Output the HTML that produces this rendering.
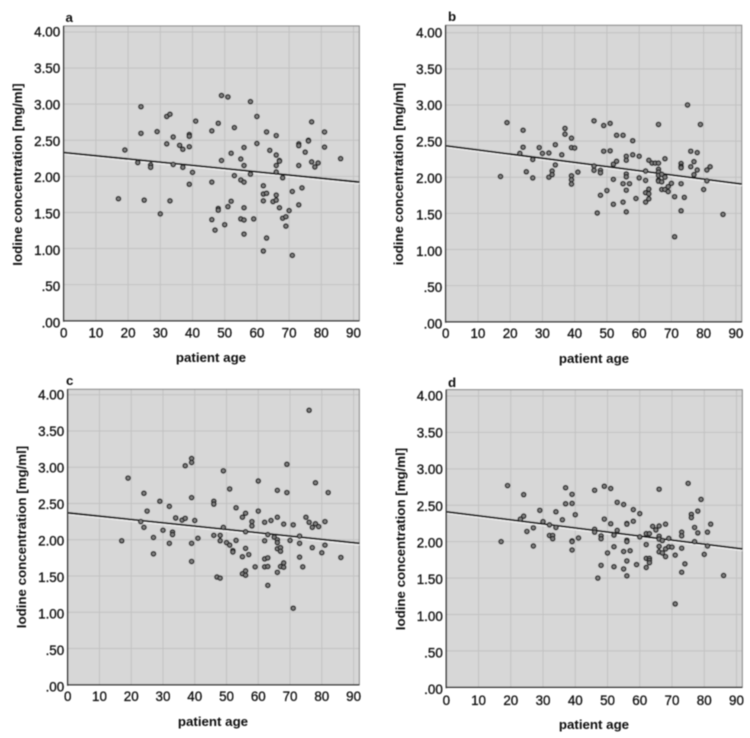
<!DOCTYPE html>
<html lang="en">
<head>
<meta charset="utf-8">
<title>Iodine concentration by patient age</title>
<style>
html,body{margin:0;padding:0;background:#fff;}
#figure{display:block;width:750px;height:738px;}
text{font-family:"Liberation Sans",sans-serif;fill:#111;}
</style>
</head>
<body>
<svg id="figure" xmlns="http://www.w3.org/2000/svg" width="750" height="738" viewBox="0 0 750 738">
<defs><filter id="soft" x="-2%" y="-2%" width="104%" height="104%"><feGaussianBlur stdDeviation="0.4"/></filter></defs>
<rect width="750" height="738" fill="#fff"/>
<g id="root" filter="url(#soft)"></g>
</svg>
<script>
var xTickValues = [0,10,20,30,40,50,60,70,80,90];
var xTickLabels = ["0","10","20","30","40","50","60","70","80","90"];
var yTickValues = [0,0.5,1,1.5,2,2.5,3,3.5,4];
var yTickLabels = [".00",".50","1.00","1.50","2.00","2.50","3.00","3.50","4.00"];
var trendAges = [0,91.8];

var agesA = [17,19,23,24,24,25,27,27,29,30,32,33,32,33,34,34,36,37,37,39,39,39,39,40,41,46,46,46,47,48,48,48,49,49,50,51,51,52,52,53,53,55,55,55,56,56,56,56,56,56,58,58,59,60,60,62,62,62,62,63,63,63,64,65,66,66,66,66,66,66,67,67,67,68,68,69,69,70,71,71,73,73,73,73,74,75,76,76,77,77,78,79,81,81,86];
var concA = [1.69,2.365,2.19,2.965,2.596,1.67,2.157,2.125,2.62,1.48,2.83,2.86,2.45,1.66,2.545,2.165,2.43,2.375,2.125,2.58,2.555,2.41,1.89,2.055,2.765,2.63,1.92,1.4,1.255,2.735,1.555,1.53,3.12,2.22,1.33,3.1,1.58,2.32,1.655,2.675,2.01,2.24,1.95,1.41,2.4,2.15,1.92,1.565,1.395,1.2,3.035,2.03,1.41,2.83,2.455,1.87,1.755,1.66,0.965,2.615,1.765,1.145,2.36,1.65,2.565,2.295,2.15,2.06,1.74,1.67,2.22,2.21,1.565,1.98,1.42,1.44,1.31,1.525,1.79,0.905,2.45,2.425,2.15,1.605,1.84,2.335,2.5,2.49,2.755,2.2,2.13,2.185,2.615,2.405,2.245];
var trendA = [2.33,1.92];

var agesB = [17,19,23,24,24,25,27,27,29,30,32,32,33,33,34,34,36,37,37,39,39,39,39,39,40,41,46,46,46,47,48,48,48,49,49,50,51,51,52,52,52,53,53,55,55,55,56,56,56,56,56,56,57,58,58,59,60,60,62,62,62,62,63,63,63,63,64,65,66,66,66,66,66,66,66,67,67,67,68,68,68,69,69,70,71,71,73,73,73,73,74,75,76,76,77,77,78,78,79,80,81,81,82,86,73];
var concB = [2.01,2.755,2.33,2.65,2.415,2.075,2.245,1.99,2.41,2.33,2.335,2.0,2.085,2.035,2.45,2.17,2.31,2.675,2.595,2.54,2.41,2.02,1.965,1.905,2.405,2.07,2.78,2.155,2.095,1.505,2.095,2.06,1.75,2.715,2.36,1.815,2.745,2.365,2.18,1.97,1.625,2.58,2.22,2.58,1.91,1.655,2.29,2.235,2.045,2.005,1.82,1.52,1.91,2.505,2.31,1.705,2.29,1.99,2.085,1.955,1.785,1.655,2.235,1.835,1.77,1.7,2.195,2.195,2.73,2.195,2.11,2.07,2.025,1.96,1.945,2.04,1.935,1.83,2.255,2.0,1.83,1.87,1.8,1.915,1.73,1.175,2.19,2.15,2.13,1.91,1.72,3.0,2.36,2.145,2.215,2.035,2.34,2.1,2.73,1.83,2.1,1.95,2.145,1.485,1.535];
var trendB = [2.435,1.905];

var agesC = [17,19,23,24,24,25,27,27,29,30,32,32,33,33,34,34,36,37,37,39,39,39,39,39,40,41,46,46,46,47,48,48,48,49,49,50,51,51,52,52,53,53,55,55,55,56,56,56,56,56,57,58,58,59,60,60,62,62,62,62,63,63,63,63,64,65,66,66,66,66,66,66,67,67,67,68,68,68,69,69,70,71,71,73,73,73,74,75,76,76,77,77,78,78,79,80,81,81,82,86];
var concC = [1.985,2.85,2.25,2.64,2.17,2.395,2.03,1.805,2.53,2.13,2.46,1.95,2.105,2.07,2.3,2.3,2.27,2.295,3.02,3.12,3.065,2.58,1.95,1.7,2.265,2.02,2.53,2.49,2.06,1.485,2.06,1.985,1.47,2.95,2.17,1.96,2.7,1.925,1.85,1.83,2.44,1.99,2.31,1.765,1.53,2.365,2.11,1.88,1.57,1.51,1.795,2.25,2.19,1.625,2.81,2.395,2.24,1.985,1.735,1.625,2.07,1.75,1.63,1.37,2.265,2.035,2.68,2.31,2.0,1.96,1.875,1.55,1.89,1.84,1.63,2.215,1.68,1.62,3.04,2.65,1.99,2.205,1.055,2.05,1.95,1.76,1.625,2.31,3.785,2.24,2.17,1.89,2.785,2.22,2.18,1.82,2.25,1.925,2.65,1.755];
var trendC = [2.37,1.95];

var agesD = [17,19,23,24,24,25,27,27,29,30,32,32,33,33,34,34,36,37,37,39,39,39,39,39,40,41,46,46,46,47,48,48,48,49,49,50,51,51,52,52,52,53,53,55,55,55,56,56,56,56,56,56,57,58,58,59,60,60,62,62,62,62,63,63,63,63,64,65,66,66,66,66,66,66,67,67,68,68,68,69,69,70,71,71,73,73,73,73,74,75,76,76,77,77,78,78,79,80,81,81,82,86];
var concD = [2.0,2.77,2.31,2.35,2.645,2.14,2.19,1.94,2.43,2.275,2.23,2.085,2.085,2.04,2.41,2.195,2.3,2.74,2.52,2.65,2.525,2.01,2.0,1.885,2.37,2.05,2.705,2.17,2.13,1.5,2.08,2.04,1.675,2.76,2.31,1.845,2.73,2.245,2.09,1.93,1.655,2.54,2.155,2.51,1.865,1.625,2.25,2.24,2.02,2.0,1.735,1.53,1.875,2.44,2.28,1.685,2.385,2.065,2.11,1.96,1.77,1.645,2.11,1.77,1.74,1.71,2.21,2.16,2.72,2.215,2.075,2.035,1.935,1.86,2.015,1.845,2.24,1.9,1.795,2.045,1.93,1.925,1.815,1.145,2.13,2.08,1.91,1.58,1.695,2.8,2.375,2.33,2.195,2.0,2.42,2.12,2.58,1.825,2.13,1.94,2.24,1.535];
var trendD = [2.41,1.90];

var panelA = {key:"a",ages:agesA,conc:concA,trend:trendA,yTitle:"Iodine concentration [mg/ml]",L:63.7,R:359.3,T:26,B:320.7,y4:32,letterX:65.5,letterY:22,yTitleX:22,yTitleY:174.5,xLabelY:337.5,xTitleX:211,xTitleY:362};
var panelB = {key:"b",ages:agesB,conc:concB,trend:trendB,yTitle:"iodine concentration [mg/ml]",L:445.7,R:741.7,T:25.3,B:321.7,y4:32.7,letterX:448,letterY:21,yTitleX:403,yTitleY:174,xLabelY:338,xTitleX:594,xTitleY:363};
var panelC = {key:"c",ages:agesC,conc:concC,trend:trendC,yTitle:"Iodine concentration [mg/ml]",L:67.7,R:359.3,T:389.3,B:684.7,y4:394.7,letterX:66,letterY:385,yTitleX:26,yTitleY:537,xLabelY:701,xTitleX:213,xTitleY:726};
var panelD = {key:"d",ages:agesD,conc:concD,trend:trendD,yTitle:"Iodine concentration [mg/ml]",L:446.3,R:742.3,T:389.7,B:687.3,y4:396,letterX:448,letterY:387,yTitleX:405,yTitleY:539,xLabelY:705,xTitleX:594,xTitleY:729};
var panels = [panelA,panelB,panelC,panelD];

var NS = "http://www.w3.org/2000/svg";
var XMAX = 91.8;
var root = document.getElementById("root");

function make(parent, tag, attrs, txt){
  var e = document.createElementNS(NS, tag);
  for (var k in attrs) e.setAttribute(k, attrs[k]);
  if (txt !== undefined) e.textContent = txt;
  parent.appendChild(e);
  return e;
}

panels.forEach(function(p){
  var xs = function(a){ return p.L + a * (p.R - p.L) / XMAX; };
  var ys = function(v){ return p.B - v * (p.B - p.y4) / 4; };
  var g = make(root, "g", {});
  
  

  var bg = make(g, "rect", {x:p.L,y:p.T,width:p.R-p.L,height:p.B-p.T,fill:"#d7d7d7"});
  
  

  yTickValues.forEach(function(v){
    var gy = make(g, "line", {x1:p.L,x2:p.R,y1:ys(v),y2:ys(v),stroke:"#c2c2c2","stroke-width":1});
    
    
  });
  xTickValues.forEach(function(v){
    if (v === 0) return;
    var gx = make(g, "line", {x1:xs(v),x2:xs(v),y1:p.T,y2:p.B,stroke:"#c2c2c2","stroke-width":1});
    
    
  });

  var frame = make(g, "rect", {x:p.L,y:p.T,width:p.R-p.L,height:p.B-p.T,fill:"none",stroke:"#8a8a8a","stroke-width":1.1});
  
  

  var halo = make(g, "line", {x1:xs(trendAges[0]),y1:ys(p.trend[0])+1.5,x2:xs(trendAges[1]),y2:ys(p.trend[1])+1.5,stroke:"#f6f6f6","stroke-width":1.3});
  
  

  var trend = make(g, "line", {x1:xs(trendAges[0]),y1:ys(p.trend[0]),x2:xs(trendAges[1]),y2:ys(p.trend[1]),stroke:"#0a0a0a","stroke-width":1.9});
  
  

  p.ages.forEach(function(a,i){
    var c = make(g, "circle", {cx:xs(a),cy:ys(p.conc[i]),r:2.2,fill:"#808080",stroke:"#262626","stroke-width":1.35});
    
    
  });

  var axY = make(g, "line", {x1:p.L,x2:p.L,y1:p.T,y2:p.B+1,stroke:"#3a3a3a","stroke-width":1.5});
  
  
  var axX = make(g, "line", {x1:p.L,x2:p.R,y1:p.B,y2:p.B,stroke:"#3a3a3a","stroke-width":1.5});
  
  

  xTickValues.forEach(function(v,i){
    var t = make(g, "text", {x:xs(v),y:p.xLabelY,"text-anchor":"middle","font-size":13.4,stroke:"#111","stroke-width":0.3}, xTickLabels[i]);
    
    
  });
  yTickValues.forEach(function(v,i){
    var t = make(g, "text", {x:p.L-3.5,y:ys(v)+4.7+(4-v)*0.55,"text-anchor":"end","font-size":13.4,stroke:"#111","stroke-width":0.3}, yTickLabels[i]);
    
    
  });

  var xt = make(g, "text", {x:p.xTitleX,y:p.xTitleY,"text-anchor":"middle","font-size":13.3,"font-weight":"bold"}, "patient age");
  
  

  var yt = make(g, "text", {x:0,y:0,"text-anchor":"middle","font-size":13.3,"font-weight":"bold",transform:"translate("+p.yTitleX+","+p.yTitleY+") rotate(-90)"}, p.yTitle);
  
  

  var lt = make(g, "text", {x:p.letterX,y:p.letterY,"font-size":13.3,"font-weight":"bold"}, p.key);
  
  
});
</script>
</body>
</html>
